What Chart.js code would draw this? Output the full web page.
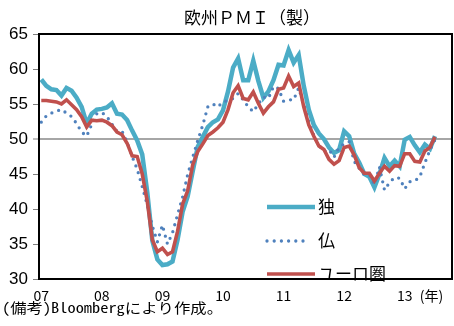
<!DOCTYPE html>
<html>
<head>
<meta charset="utf-8">
<script src="https://cdn.jsdelivr.net/npm/chart.js@4.4.1/dist/chart.umd.min.js"></script>
<style>
  html, body { margin: 0; padding: 0; background: #ffffff; }
  canvas { display: block; }
</style>
</head>
<body>
<canvas id="pmi" width="454" height="326"></canvas>
<script>
// Manufacturing PMI, monthly from Jan 2007 (index 0) to Jul 2013 (index 78)
const chartTitle = '欧州ＰＭＩ（製）';
const sourceNote = '(備考)Bloombergにより作成。';
const yearLabels = ['07', '08', '09', '10', '11', '12', '13'];
const unitLabel = '(年)';
const seriesNames = ['独', '仏', 'ユーロ圏'];

const germany = [
  58.5, 57.6, 57.1, 57.0, 56.2, 57.3, 56.9, 55.9, 54.6, 52.2, 53.6, 54.2,
  54.3, 54.5, 55.1, 53.6, 53.5, 52.7, 51.2, 49.8, 47.8, 42.4, 35.5, 32.8,
  32.0, 32.1, 32.5, 35.6, 39.6, 41.8, 45.4, 48.9, 50.3, 51.7, 52.4, 52.8,
  54.1, 56.8, 60.2, 61.5, 58.4, 58.4, 61.2, 58.3, 55.9, 56.8, 58.4, 60.6,
  60.5, 62.7, 60.9, 62.0, 57.6, 54.2, 52.0, 50.8, 50.0, 48.8, 48.0, 48.4,
  51.1, 50.4, 47.9, 46.6, 45.0, 44.6, 43.1, 45.0, 47.3, 46.1, 46.9, 46.1,
  49.9, 50.3, 49.1, 48.1, 49.2, 48.6, 50.4
];

const france = [
  52.4, 53.3, 53.7, 54.0, 54.2, 53.7, 53.2, 52.2, 51.0, 50.4, 52.1, 53.6,
  53.8, 53.2, 52.1, 51.1, 51.1, 49.6, 47.5, 45.7, 43.2, 40.6, 37.6, 35.3,
  37.7, 35.0, 36.6, 39.2, 41.7, 44.9, 47.4, 49.8, 52.0, 54.6, 55.0, 54.6,
  55.3, 55.5, 55.8, 56.5, 55.6, 54.6, 53.9, 55.0, 56.0, 55.8, 57.5, 57.2,
  55.4, 55.6, 55.6, 57.3, 54.9, 52.5, 50.5, 49.1, 48.2, 48.5, 47.4, 48.8,
  49.3, 49.6, 46.8, 45.8, 44.9, 44.9, 43.5, 46.0, 42.7, 43.8, 44.5, 44.4,
  42.9, 43.9, 44.0, 44.6, 46.6, 48.4, 49.9
];

const eurozone = [
  55.5, 55.5, 55.4, 55.3, 55.0, 55.6, 54.9, 54.2, 53.2, 51.7, 52.7, 52.6,
  52.7, 52.4, 51.9, 51.0, 50.6, 49.4, 47.6, 47.5, 45.0, 41.1, 35.6, 33.9,
  34.4, 33.5, 33.9, 36.8, 40.7, 42.6, 46.3, 48.2, 49.3, 50.5, 51.0, 51.6,
  52.4, 54.2, 56.6, 57.6, 55.8, 55.6, 56.7, 55.1, 53.7, 54.6, 55.3, 57.1,
  57.3, 59.0, 57.5, 58.0, 54.6, 52.0, 50.4, 49.0, 48.5, 47.1, 46.4, 46.9,
  48.8, 49.0, 47.7, 45.9, 45.1, 45.1, 44.0, 45.1, 46.1, 45.4, 46.2, 46.1,
  47.9, 47.9, 46.8, 46.7, 48.3, 48.8, 50.3
];

const colors = { germany: '#4bacc6', france: '#4f81bd', eurozone: '#c0504d' };

// month index -> point
const toPoints = arr => arr.map((v, i) => ({ x: i, y: v }));

// x ticks: January of each year, plus the unit label at the right end
const yearTicks = yearLabels.map((_, k) => k * 12);
const unitTick = 77.3;

const decorations = {
  id: 'decorations',
  afterDatasetsDraw(chart) {
    const { ctx, chartArea: a } = chart;
    ctx.save();
    // plot frame
    ctx.strokeStyle = '#000000';
    ctx.lineWidth = 2;
    ctx.strokeRect(a.left, a.top, a.right - a.left, a.bottom - a.top);

    // legend inside the plot
    const ds = chart.data.datasets;
    const x0 = a.left + 228, x1 = a.left + 276;
    const rows = [a.top + 173, a.top + 207, a.top + 240];
    const legendOrder = [0, 1, 2];
    legendOrder.forEach((k, r) => {
      const d = ds[k];
      const y = rows[r];
      ctx.beginPath();
      ctx.strokeStyle = d.borderColor;
      ctx.lineWidth = d.borderWidth;
      ctx.lineCap = d.borderCapStyle || 'butt';
      ctx.setLineDash(d.borderDash || []);
      ctx.moveTo(x0, y);
      ctx.lineTo(d.borderDash && d.borderDash.length ? x1 - 8 : x1, y);
      ctx.stroke();
      ctx.setLineDash([]);
      ctx.fillStyle = '#000000';
      ctx.font = '17px "Noto Sans CJK JP"';
      ctx.textAlign = 'left';
      ctx.textBaseline = 'middle';
      ctx.fillText(d.label, x1 + 3, y);
    });
    ctx.restore();
  },
  afterDraw(chart) {
    const { ctx } = chart;
    ctx.save();
    ctx.fillStyle = '#000000';
    ctx.textBaseline = 'middle';
    // title
    ctx.font = '17px "Noto Sans CJK JP"';
    ctx.textAlign = 'center';
    ctx.fillText(chartTitle, 252, 18);
    // source note, fitted to its line width
    ctx.font = '14px "Noto Sans Mono CJK JP", "Noto Sans CJK JP"';
    ctx.textAlign = 'left';
    const w = ctx.measureText(sourceNote).width;
    const sx = 221 / w;
    ctx.translate(2, 308);
    ctx.scale(sx, 1);
    ctx.fillText(sourceNote, 0, 0);
    ctx.restore();
  }
};

new Chart(document.getElementById('pmi'), {
  type: 'line',
  data: {
    datasets: [
      {
        label: seriesNames[0],
        data: toPoints(germany),
        borderColor: colors.germany,
        borderWidth: 4.5,
        pointRadius: 0,
        tension: 0,
        order: 3
      },
      {
        label: seriesNames[1],
        data: toPoints(france),
        borderColor: colors.france,
        borderWidth: 3.3,
        borderDash: [0, 7.2],
        borderCapStyle: 'round',
        pointRadius: 0,
        tension: 0,
        order: 2
      },
      {
        label: seriesNames[2],
        data: toPoints(eurozone),
        borderColor: colors.eurozone,
        borderWidth: 3.6,
        pointRadius: 0,
        tension: 0,
        order: 1
      }
    ]
  },
  options: {
    responsive: false,
    animation: false,
    devicePixelRatio: 1,
    layout: { padding: { top: 34, right: 2, left: 0, bottom: 0 } },
    plugins: {
      legend: { display: false },
      title: { display: false },
      tooltip: { enabled: false }
    },
    scales: {
      x: {
        type: 'linear',
        min: -0.45,
        max: 81.37,
        afterFit: s => { s.height = 47; },
        afterBuildTicks: s => {
          s.ticks = yearTicks.concat([unitTick]).map(v => ({ value: v }));
        },
        grid: { display: false, drawTicks: false },
        border: { display: false },
        ticks: {
          autoSkip: false,
          maxRotation: 0,
          padding: 8,
          color: '#000000',
          font: { family: '"Noto Sans CJK JP"', size: 14 },
          callback: v => {
            if (v === unitTick) return unitLabel;
            const k = yearTicks.indexOf(v);
            return k >= 0 ? yearLabels[k] : '';
          }
        }
      },
      y: {
        min: 30,
        max: 65,
        afterFit: s => { s.width = 39; },
        border: { display: false },
        grid: {
          color: c => (c.tick && c.tick.value === 50 ? '#a6a6a6' : 'rgba(0,0,0,0)'),
          lineWidth: c => (c.tick && c.tick.value === 50 ? 2 : 1),
          tickColor: '#7f7f7f',
          tickWidth: 1,
          tickLength: 6,
          drawTicks: true
        },
        ticks: {
          stepSize: 5,
          padding: 5,
          color: '#000000',
          font: { family: '"Liberation Sans", Arial, sans-serif', size: 17 }
        }
      }
    }
  },
  plugins: [decorations]
});
</script>
</body>
</html>
